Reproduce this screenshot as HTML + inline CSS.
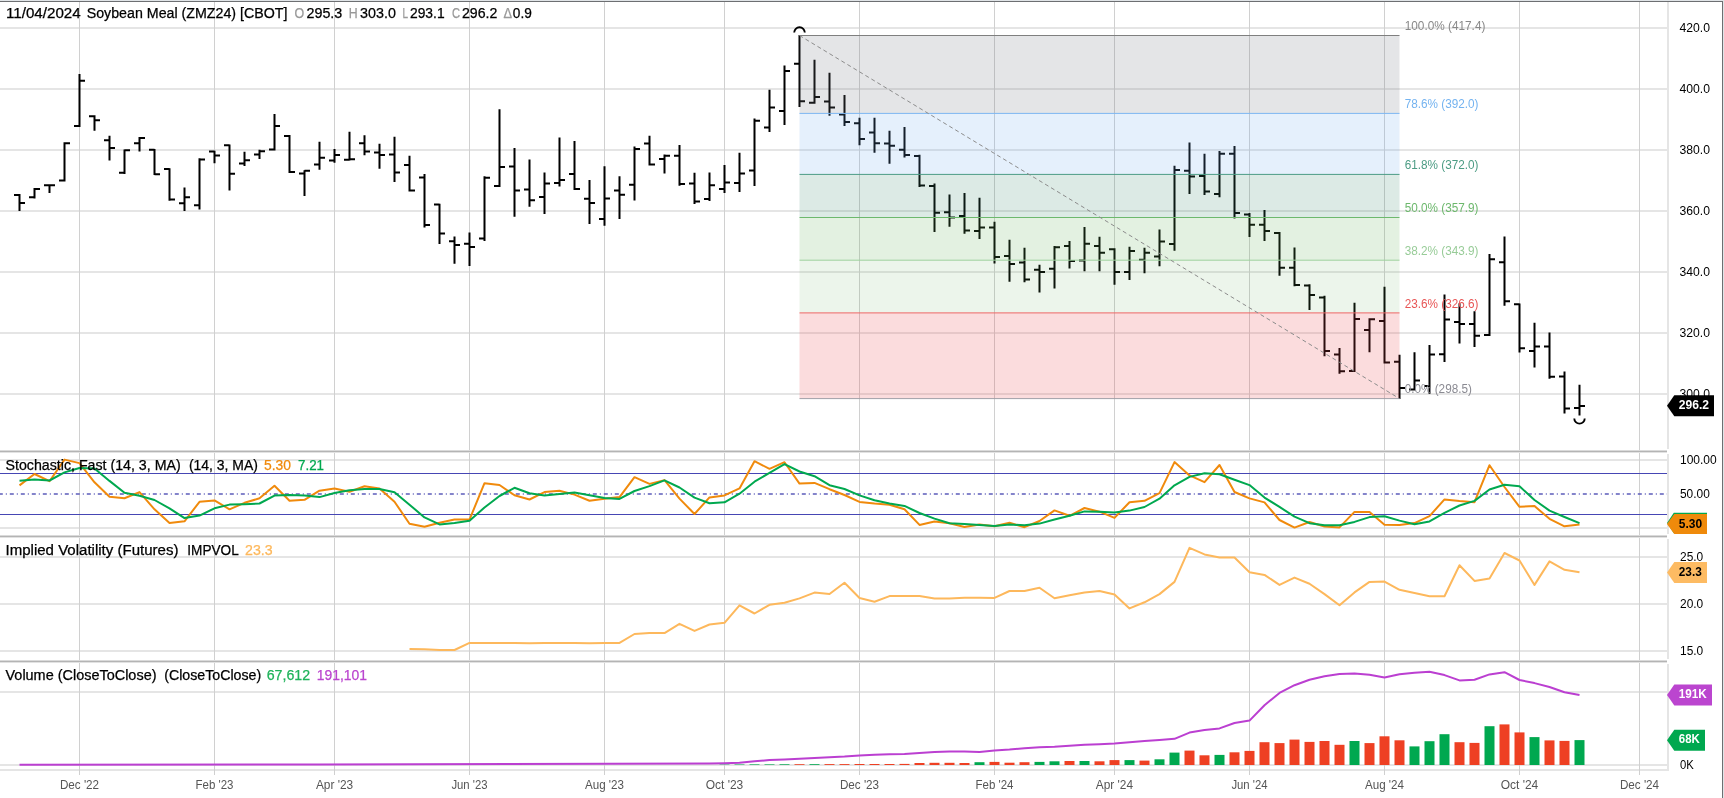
<!DOCTYPE html>
<html lang="en"><head><meta charset="utf-8"><title>Soybean Meal (ZMZ24) Weekly Chart</title>
<style>html,body{margin:0;padding:0;background:#fff;overflow:hidden}svg{display:block}#chart{will-change:transform;width:1724px;height:798px}</style></head>
<body>
<div id="chart">
<svg width="1724" height="798" viewBox="0 0 1724 798" font-family='"Liberation Sans", sans-serif'>
<rect x="0" y="0" width="1724" height="798" fill="#fff"/>
<g shape-rendering="crispEdges">
<rect x="0" y="27" width="1669" height="2" fill="#e5e5e5"/>
<rect x="0" y="88" width="1669" height="2" fill="#e5e5e5"/>
<rect x="0" y="149" width="1669" height="2" fill="#e5e5e5"/>
<rect x="0" y="210" width="1669" height="2" fill="#e5e5e5"/>
<rect x="0" y="271" width="1669" height="2" fill="#e5e5e5"/>
<rect x="0" y="332" width="1669" height="2" fill="#e5e5e5"/>
<rect x="0" y="393" width="1669" height="2" fill="#e5e5e5"/>
<rect x="0" y="459" width="1669" height="2" fill="#e5e5e5"/>
<rect x="0" y="527" width="1669" height="2" fill="#e5e5e5"/>
<rect x="0" y="556" width="1669" height="2" fill="#e5e5e5"/>
<rect x="0" y="603" width="1669" height="2" fill="#e5e5e5"/>
<rect x="0" y="650" width="1669" height="2" fill="#e5e5e5"/>
<rect x="0" y="691" width="1669" height="2" fill="#e5e5e5"/>
<rect x="0" y="764" width="1669" height="2" fill="#e5e5e5"/>
<rect x="0" y="769" width="1669" height="2" fill="#e5e5e5"/>
<rect x="1667" y="2" width="2" height="447" fill="#e5e5e5"/>
<rect x="1667" y="454" width="2" height="80" fill="#e5e5e5"/>
<rect x="1667" y="539" width="2" height="120" fill="#e5e5e5"/>
<rect x="1667" y="664" width="2" height="107" fill="#e5e5e5"/>
<rect x="79" y="2" width="1" height="773" fill="#d0d0d0"/>
<rect x="214" y="2" width="1" height="773" fill="#d0d0d0"/>
<rect x="334" y="2" width="1" height="773" fill="#d0d0d0"/>
<rect x="469" y="2" width="1" height="773" fill="#d0d0d0"/>
<rect x="604" y="2" width="1" height="773" fill="#d0d0d0"/>
<rect x="724" y="2" width="1" height="773" fill="#d0d0d0"/>
<rect x="859" y="2" width="1" height="773" fill="#d0d0d0"/>
<rect x="994" y="2" width="1" height="773" fill="#d0d0d0"/>
<rect x="1114" y="2" width="1" height="773" fill="#d0d0d0"/>
<rect x="1249" y="2" width="1" height="773" fill="#d0d0d0"/>
<rect x="1384" y="2" width="1" height="773" fill="#d0d0d0"/>
<rect x="1519" y="2" width="1" height="773" fill="#d0d0d0"/>
<rect x="1639" y="2" width="1" height="773" fill="#d0d0d0"/>
<rect x="0" y="450" width="1667" height="1" fill="#dadada"/>
<rect x="0" y="451" width="1667" height="1" fill="#b4b4b4"/>
<rect x="0" y="452" width="1667" height="1" fill="#e2e2e2"/>
<rect x="0" y="535" width="1667" height="1" fill="#dadada"/>
<rect x="0" y="536" width="1667" height="1" fill="#b4b4b4"/>
<rect x="0" y="537" width="1667" height="1" fill="#e2e2e2"/>
<rect x="0" y="660" width="1667" height="1" fill="#dadada"/>
<rect x="0" y="661" width="1667" height="1" fill="#b4b4b4"/>
<rect x="0" y="662" width="1667" height="1" fill="#e2e2e2"/>
</g>
<path d="M19.5 194.1V211.0M14.0 195.0H19.5M19.5 203.0H25.0M34.5 188.1V198.4M29.0 197.2H34.5M34.5 189.0H40.0M49.5 184.2V192.9M44.0 185.2H49.5M49.5 185.2H55.0M64.5 142.2V181.5M59.0 180.5H64.5M64.5 143.2H70.0M79.5 74.0V127.0M74.0 126.1H79.5M79.5 80.8H85.0M94.5 115.2V130.7M89.0 116.2H94.5M94.5 120.2H100.0M109.5 135.8V160.6M104.0 140.2H109.5M109.5 148.0H115.0M124.5 149.4V173.9M119.0 172.8H124.5M124.5 150.3H130.0M139.5 137.0V151.4M134.0 143.2H139.5M139.5 138.0H145.0M154.5 148.9V175.1M149.0 149.8H154.5M154.5 174.2H160.0M169.5 168.2V200.7M164.0 169.1H169.5M169.5 199.6H175.0M184.5 187.4V211.0M179.0 203.2H184.5M184.5 197.3H190.0M199.5 158.2V209.6M194.0 205.2H199.5M199.5 159.4H205.0M214.5 150.8V163.3M209.0 151.5H214.5M214.5 155.5H220.0M229.5 144.5V190.6M224.0 145.3H229.5M229.5 173.7H235.0M244.5 151.8V166.0M239.0 163.6H244.5M244.5 160.2H250.0M259.5 149.7V158.9M254.0 154.5H259.5M259.5 151.2H265.0M274.5 114.0V150.5M269.0 149.6H274.5M274.5 125.9H280.0M289.5 135.1V173.0M284.0 136.0H289.5M289.5 172.0H295.0M304.5 170.2V195.9M299.0 173.5H304.5M304.5 170.7H310.0M319.5 141.8V169.7M314.0 164.5H319.5M319.5 157.8H325.0M334.5 148.9V162.8M329.0 160.6H334.5M334.5 154.9H340.0M349.5 131.8V160.5M344.0 159.8H349.5M349.5 159.2H355.0M364.5 135.3V155.3M359.0 143.2H364.5M364.5 151.6H370.0M379.5 143.7V168.7M374.0 152.4H379.5M379.5 154.9H385.0M394.5 136.7V181.9M389.0 154.5H394.5M394.5 172.5H400.0M409.5 155.7V191.5M404.0 165.0H409.5M409.5 190.4H415.0M424.5 174.0V227.6M419.0 177.5H424.5M424.5 225.1H430.0M439.5 203.7V243.9M434.0 204.5H439.5M439.5 233.5H445.0M454.5 236.5V263.7M449.0 241.2H454.5M454.5 244.9H460.0M469.5 232.6V266.1M464.0 243.8H469.5M469.5 247.1H475.0M484.5 176.3V241.0M479.0 238.6H484.5M484.5 177.7H490.0M499.5 109.2V187.0M494.0 185.9H499.5M499.5 167.1H505.0M514.5 148.0V216.8M509.0 166.6H514.5M514.5 190.6H520.0M529.5 159.4V206.7M524.0 189.4H529.5M529.5 200.2H535.0M544.5 172.4V214.0M539.0 197.0H544.5M544.5 183.4H550.0M559.5 137.6V186.6M554.0 183.1H559.5M559.5 180.0H565.0M574.5 140.9V190.1M569.0 174.0H574.5M574.5 189.0H580.0M589.5 180.1V224.1M584.0 198.8H589.5M589.5 203.1H595.0M604.5 166.3V225.8M599.0 219.0H604.5M604.5 198.6H610.0M619.5 176.3V218.9M614.0 190.4H619.5M619.5 194.8H625.0M634.5 146.6V200.4M629.0 184.8H634.5M634.5 149.1H640.0M649.5 135.8V165.4M644.0 143.4H649.5M649.5 164.5H655.0M664.5 154.6V173.6M659.0 158.9H664.5M664.5 155.7H670.0M679.5 144.9V185.8M674.0 155.7H679.5M679.5 184.0H685.0M694.5 172.8V203.9M689.0 183.6H694.5M694.5 201.6H700.0M709.5 172.4V200.9M704.0 199.0H709.5M709.5 185.2H715.0M724.5 164.9V193.1M719.0 189.0H724.5M724.5 182.6H730.0M739.5 152.7V191.9M734.0 183.1H739.5M739.5 173.5H745.0M754.5 118.4V186.1M749.0 170.4H754.5M754.5 120.7H760.0M769.5 89.8V131.9M764.0 127.5H769.5M769.5 107.6H775.0M784.5 65.4V124.9M779.0 110.9H784.5M784.5 71.0H790.0M799.5 34.9V107.0M794.0 63.7H799.5M799.5 101.2H805.0M814.5 59.7V103.7M809.0 102.8H814.5M814.5 97.0H820.0M829.5 72.7V115.7M824.0 101.5H829.5M829.5 107.6H835.0M844.5 94.9V126.1M839.0 114.6H844.5M844.5 121.9H850.0M859.5 117.7V145.3M854.0 123.3H859.5M859.5 139.0H865.0M874.5 117.7V152.8M869.0 132.5H874.5M874.5 143.2H880.0M889.5 130.8V163.7M884.0 143.6H889.5M889.5 145.8H895.0M904.5 127.0V157.4M899.0 149.7H904.5M904.5 155.0H910.0M919.5 154.8V187.0M914.0 155.9H919.5M919.5 185.6H925.0M934.5 183.4V231.9M929.0 186.0H934.5M934.5 212.8H940.0M949.5 194.6V226.8M944.0 212.2H949.5M949.5 217.6H955.0M964.5 193.1V233.7M959.0 216.0H964.5M964.5 230.5H970.0M979.5 197.7V238.9M974.0 231.1H979.5M979.5 227.6H985.0M994.5 221.8V263.5M989.0 227.6H994.5M994.5 257.0H1000.0M1009.5 239.7V281.8M1004.0 255.9H1009.5M1009.5 264.0H1015.0M1024.5 247.8V282.3M1019.0 262.6H1024.5M1024.5 279.4H1030.0M1039.5 264.8V292.6M1034.0 269.7H1039.5M1039.5 271.9H1045.0M1054.5 246.1V288.5M1049.0 268.8H1054.5M1054.5 247.2H1060.0M1069.5 240.9V268.4M1064.0 245.9H1069.5M1069.5 260.9H1075.0M1084.5 226.9V271.2M1079.0 260.5H1084.5M1084.5 243.8H1090.0M1099.5 236.7V271.2M1094.0 246.0H1099.5M1099.5 252.7H1105.0M1114.5 248.2V284.8M1109.0 249.2H1114.5M1114.5 271.9H1120.0M1129.5 246.7V279.9M1124.0 271.9H1129.5M1129.5 251.0H1135.0M1144.5 247.8V273.3M1139.0 259.8H1144.5M1144.5 252.7H1150.0M1159.5 229.5V266.2M1154.0 256.4H1159.5M1159.5 241.5H1165.0M1174.5 165.8V250.8M1169.0 244.1H1174.5M1174.5 170.1H1180.0M1189.5 142.4V194.0M1184.0 170.8H1189.5M1189.5 176.6H1195.0M1204.5 153.7V194.9M1199.0 175.9H1204.5M1204.5 191.5H1210.0M1219.5 150.9V197.2M1214.0 194.0H1219.5M1219.5 153.7H1225.0M1234.5 145.9V218.5M1229.0 153.7H1234.5M1234.5 213.0H1240.0M1249.5 212.9V237.0M1244.0 214.6H1249.5M1249.5 224.8H1255.0M1264.5 209.9V240.9M1259.0 224.8H1264.5M1264.5 231.0H1270.0M1279.5 232.0V275.8M1274.0 233.1H1279.5M1279.5 267.8H1285.0M1294.5 247.4V286.3M1289.0 267.8H1294.5M1294.5 285.0H1300.0M1309.5 284.3V310.1M1304.0 285.4H1309.5M1309.5 294.9H1315.0M1324.5 295.8V356.2M1319.0 297.4H1324.5M1324.5 351.1H1330.0M1339.5 347.9V373.8M1334.0 354.6H1339.5M1339.5 371.3H1345.0M1354.5 302.8V372.0M1349.0 370.9H1354.5M1354.5 318.9H1360.0M1369.5 318.2V352.2M1364.0 330.1H1369.5M1369.5 319.3H1375.0M1384.5 286.8V363.6M1379.0 321.0H1384.5M1384.5 362.5H1390.0M1399.5 354.8V399.1M1394.0 361.8H1399.5M1399.5 387.9H1405.0M1414.5 352.3V390.5M1409.0 389.6H1414.5M1414.5 380.6H1420.0M1429.5 345.0V393.8M1424.0 386.0H1429.5M1429.5 354.5H1435.0M1444.5 294.4V361.9M1439.0 354.2H1444.5M1444.5 319.5H1450.0M1459.5 303.2V343.4M1454.0 321.9H1459.5M1459.5 324.1H1465.0M1474.5 311.2V346.9M1469.0 324.1H1474.5M1474.5 335.7H1480.0M1489.5 253.9V336.1M1484.0 335.0H1489.5M1489.5 259.3H1495.0M1504.5 236.4V305.7M1499.0 262.3H1504.5M1504.5 301.2H1510.0M1519.5 303.4V352.5M1514.0 304.2H1519.5M1519.5 348.2H1525.0M1534.5 322.8V367.5M1529.0 351.0H1534.5M1534.5 346.6H1540.0M1549.5 332.4V378.7M1544.0 346.6H1549.5M1549.5 376.7H1555.0M1564.5 371.5V413.5M1559.0 376.6H1564.5M1564.5 408.6H1570.0M1579.5 384.7V415.5M1574.0 408.1H1579.5M1579.5 406.1H1585.0" stroke="#000" stroke-width="2" fill="none"/>
<rect x="799.5" y="35.5" width="600.0" height="77.9" fill="rgba(120,124,134,0.2)"/>
<rect x="799.5" y="113.4" width="600.0" height="61.0" fill="rgba(110,170,240,0.18)"/>
<rect x="799.5" y="174.4" width="600.0" height="43.1" fill="rgba(60,140,110,0.18)"/>
<rect x="799.5" y="217.5" width="600.0" height="42.7" fill="rgba(100,175,90,0.18)"/>
<rect x="799.5" y="260.2" width="600.0" height="52.7" fill="rgba(100,175,90,0.12)"/>
<rect x="799.5" y="312.9" width="600.0" height="85.7" fill="rgba(235,70,75,0.19)"/>
<line x1="799.5" y1="35.5" x2="1399.5" y2="35.5" stroke="#7f7f7f" stroke-width="1"/>
<line x1="799.5" y1="113.4" x2="1399.5" y2="113.4" stroke="#7db7f2" stroke-width="1"/>
<line x1="799.5" y1="174.4" x2="1399.5" y2="174.4" stroke="#4c9c84" stroke-width="1"/>
<line x1="799.5" y1="217.5" x2="1399.5" y2="217.5" stroke="#6db86d" stroke-width="1"/>
<line x1="799.5" y1="260.2" x2="1399.5" y2="260.2" stroke="#9fd19f" stroke-width="1"/>
<line x1="799.5" y1="312.9" x2="1399.5" y2="312.9" stroke="#ee6666" stroke-width="1"/>
<line x1="799.5" y1="398.6" x2="1399.5" y2="398.6" stroke="#a0a0a8" stroke-width="1"/>
<line x1="799.5" y1="35.5" x2="1399.5" y2="398.6" stroke="#8c8c8c" stroke-width="1" stroke-dasharray="4 3"/>
<path d="M794.2 32.6A5.3 5.3 0 0 1 804.8 32.6" stroke="#000" stroke-width="1.9" fill="none"/>
<path d="M1574.3 418.4A5.2 5.2 0 0 0 1584.7 418.4" stroke="#000" stroke-width="1.9" fill="none"/>
<text x="1404.7" y="30.1" font-size="12" fill="#888888" textLength="80.7" lengthAdjust="spacingAndGlyphs">100.0% (417.4)</text>
<text x="1404.7" y="108.0" font-size="12" fill="#74b3f0" textLength="73.8" lengthAdjust="spacingAndGlyphs">78.6% (392.0)</text>
<text x="1404.7" y="169.0" font-size="12" fill="#4c9c84" textLength="73.8" lengthAdjust="spacingAndGlyphs">61.8% (372.0)</text>
<text x="1404.7" y="212.1" font-size="12" fill="#6db86d" textLength="73.8" lengthAdjust="spacingAndGlyphs">50.0% (357.9)</text>
<text x="1404.7" y="254.8" font-size="12" fill="#98cc98" textLength="73.8" lengthAdjust="spacingAndGlyphs">38.2% (343.9)</text>
<text x="1404.7" y="307.5" font-size="12" fill="#e85555" textLength="73.8" lengthAdjust="spacingAndGlyphs">23.6% (326.6)</text>
<text x="1404.7" y="393.2" font-size="12" fill="#8a8a92" textLength="67.2" lengthAdjust="spacingAndGlyphs">0.0% (298.5)</text>
<line x1="0" y1="473.5" x2="1667" y2="473.5" stroke="#4646b4" stroke-width="1"/>
<line x1="0" y1="514.5" x2="1667" y2="514.5" stroke="#4646b4" stroke-width="1"/>
<line x1="-1.2" y1="494.1" x2="1667" y2="494.1" stroke="#5c5cba" stroke-width="1.5" stroke-dasharray="4 3 1 3"/>
<path d="M19.5 485.4L34.5 474.0L49.5 481.2L64.5 459.6L79.5 463.1L94.5 482.3L109.5 496.8L124.5 498.2L139.5 492.1L154.5 509.3L169.5 523.0L184.5 521.3L199.5 501.8L214.5 500.4L229.5 509.3L244.5 502.8L259.5 498.3L274.5 485.7L289.5 500.7L304.5 499.8L319.5 490.7L334.5 488.6L349.5 491.7L364.5 486.3L379.5 488.6L394.5 501.7L409.5 523.7L424.5 526.7L439.5 522.7L454.5 519.6L469.5 519.6L484.5 483.2L499.5 485.0L514.5 495.3L529.5 499.5L544.5 492.1L559.5 490.7L574.5 494.6L589.5 500.7L604.5 498.8L619.5 497.1L634.5 477.2L649.5 483.9L664.5 480.1L679.5 498.6L694.5 514.0L709.5 497.4L724.5 495.4L739.5 488.4L754.5 461.2L769.5 468.8L784.5 462.2L799.5 483.6L814.5 482.9L829.5 489.2L844.5 495.0L859.5 501.9L874.5 503.6L889.5 504.7L904.5 509.3L919.5 524.9L934.5 521.5L949.5 523.2L964.5 527.0L979.5 524.4L994.5 526.2L1009.5 522.7L1024.5 527.2L1039.5 521.0L1054.5 510.4L1069.5 515.8L1084.5 508.0L1099.5 511.7L1114.5 517.9L1129.5 502.2L1144.5 500.8L1159.5 493.1L1174.5 462.1L1189.5 475.4L1204.5 482.2L1219.5 465.0L1234.5 492.0L1249.5 498.4L1264.5 502.4L1279.5 520.0L1294.5 527.6L1309.5 522.0L1324.5 526.5L1339.5 527.4L1354.5 511.9L1369.5 512.0L1384.5 524.8L1399.5 525.1L1414.5 523.1L1429.5 516.1L1444.5 499.4L1459.5 501.1L1474.5 502.2L1489.5 465.2L1504.5 487.0L1519.5 506.8L1534.5 506.1L1549.5 518.8L1564.5 526.3L1579.5 524.6" stroke="#f08a0c" stroke-width="2" fill="none" stroke-linejoin="round"/>
<path d="M19.5 480.8L34.5 479.5L49.5 480.5L64.5 472.4L79.5 468.0L94.5 468.4L109.5 480.9L124.5 492.8L139.5 495.8L154.5 500.0L169.5 508.3L184.5 518.1L199.5 515.6L214.5 508.3L229.5 504.6L244.5 504.2L259.5 503.5L274.5 495.6L289.5 494.9L304.5 495.4L319.5 497.1L334.5 493.0L349.5 490.3L364.5 488.9L379.5 488.9L394.5 492.2L409.5 504.7L424.5 517.4L439.5 524.4L454.5 523.0L469.5 520.7L484.5 507.5L499.5 496.0L514.5 487.8L529.5 493.3L544.5 495.6L559.5 494.1L574.5 492.5L589.5 495.3L604.5 498.0L619.5 498.9L634.5 491.0L649.5 486.1L664.5 480.4L679.5 487.5L694.5 497.6L709.5 503.3L724.5 502.3L739.5 493.7L754.5 481.7L769.5 472.8L784.5 464.1L799.5 471.5L814.5 476.2L829.5 485.2L844.5 489.0L859.5 495.4L874.5 500.2L889.5 503.4L904.5 505.9L919.5 513.0L934.5 518.6L949.5 523.2L964.5 523.9L979.5 524.9L994.5 525.9L1009.5 524.4L1024.5 525.3L1039.5 523.6L1054.5 519.5L1069.5 515.7L1084.5 511.4L1099.5 511.8L1114.5 512.6L1129.5 510.6L1144.5 507.0L1159.5 498.7L1174.5 485.3L1189.5 476.9L1204.5 473.2L1219.5 474.2L1234.5 479.7L1249.5 485.1L1264.5 497.6L1279.5 506.9L1294.5 516.7L1309.5 523.2L1324.5 525.3L1339.5 525.3L1354.5 521.9L1369.5 517.1L1384.5 516.3L1399.5 520.6L1414.5 524.3L1429.5 521.4L1444.5 512.9L1459.5 505.5L1474.5 500.9L1489.5 489.5L1504.5 484.8L1519.5 486.3L1534.5 500.0L1549.5 510.6L1564.5 517.0L1579.5 523.2" stroke="#00a84f" stroke-width="2" fill="none" stroke-linejoin="round"/>
<path d="M409.5 649.0L424.5 649.3L439.5 650.0L454.5 650.0L469.5 642.9L484.5 642.9L499.5 642.9L514.5 642.9L529.5 643.2L544.5 642.9L559.5 642.9L574.5 642.9L589.5 643.2L604.5 642.9L619.5 642.9L634.5 634.0L649.5 633.1L664.5 633.1L679.5 623.8L694.5 630.9L709.5 624.5L724.5 622.8L739.5 605.3L754.5 613.5L769.5 604.8L784.5 602.7L799.5 598.4L814.5 592.6L829.5 594.0L844.5 582.7L859.5 598.0L874.5 601.8L889.5 596.1L904.5 596.1L919.5 596.1L934.5 598.4L949.5 598.4L964.5 597.8L979.5 597.8L994.5 597.9L1009.5 591.0L1024.5 591.0L1039.5 587.8L1054.5 598.3L1069.5 595.3L1084.5 592.4L1099.5 591.0L1114.5 594.5L1129.5 608.4L1144.5 602.3L1159.5 594.1L1174.5 581.9L1189.5 547.9L1204.5 554.4L1219.5 557.5L1234.5 557.5L1249.5 572.2L1264.5 574.9L1279.5 584.9L1294.5 577.6L1309.5 583.7L1324.5 594.1L1339.5 605.3L1354.5 592.4L1369.5 581.9L1384.5 581.6L1399.5 589.8L1414.5 593.1L1429.5 596.2L1444.5 596.2L1459.5 565.2L1474.5 580.9L1489.5 578.4L1504.5 553.0L1519.5 560.5L1534.5 584.9L1549.5 561.4L1564.5 569.8L1579.5 572.2" stroke="#fdb85c" stroke-width="2" fill="none" stroke-linejoin="round"/>
<rect x="719.5" y="764.6" width="10" height="0.4" fill="#00a84f"/>
<rect x="734.5" y="764.5" width="10" height="0.5" fill="#00a84f"/>
<rect x="749.5" y="764.4" width="10" height="0.6" fill="#00a84f"/>
<rect x="764.5" y="764.4" width="10" height="0.6" fill="#00a84f"/>
<rect x="779.5" y="764.3" width="10" height="0.7" fill="#00a84f"/>
<rect x="794.5" y="764.2" width="10" height="0.8" fill="#ee4023"/>
<rect x="809.5" y="764.2" width="10" height="0.8" fill="#00a84f"/>
<rect x="824.5" y="764.1" width="10" height="0.9" fill="#ee4023"/>
<rect x="839.5" y="764.1" width="10" height="0.9" fill="#ee4023"/>
<rect x="854.5" y="764.0" width="10" height="1.0" fill="#ee4023"/>
<rect x="869.5" y="764.0" width="10" height="1.0" fill="#ee4023"/>
<rect x="884.5" y="764.0" width="10" height="1.0" fill="#ee4023"/>
<rect x="899.5" y="763.9" width="10" height="1.1" fill="#ee4023"/>
<rect x="914.5" y="763.0" width="10" height="2.0" fill="#ee4023"/>
<rect x="929.5" y="762.8" width="10" height="2.2" fill="#ee4023"/>
<rect x="944.5" y="762.8" width="10" height="2.2" fill="#ee4023"/>
<rect x="959.5" y="763.0" width="10" height="2.0" fill="#ee4023"/>
<rect x="974.5" y="762.2" width="10" height="2.8" fill="#00a84f"/>
<rect x="989.5" y="761.9" width="10" height="3.1" fill="#ee4023"/>
<rect x="1004.5" y="762.7" width="10" height="2.3" fill="#ee4023"/>
<rect x="1019.5" y="762.2" width="10" height="2.8" fill="#ee4023"/>
<rect x="1034.5" y="761.9" width="10" height="3.1" fill="#00a84f"/>
<rect x="1049.5" y="761.3" width="10" height="3.7" fill="#00a84f"/>
<rect x="1064.5" y="761.0" width="10" height="4.0" fill="#ee4023"/>
<rect x="1079.5" y="761.0" width="10" height="4.0" fill="#00a84f"/>
<rect x="1094.5" y="761.3" width="10" height="3.7" fill="#ee4023"/>
<rect x="1109.5" y="760.1" width="10" height="4.9" fill="#ee4023"/>
<rect x="1124.5" y="760.1" width="10" height="4.9" fill="#00a84f"/>
<rect x="1139.5" y="760.6" width="10" height="4.4" fill="#ee4023"/>
<rect x="1154.5" y="759.3" width="10" height="5.7" fill="#00a84f"/>
<rect x="1169.5" y="752.6" width="10" height="12.4" fill="#00a84f"/>
<rect x="1184.5" y="750.6" width="10" height="14.4" fill="#ee4023"/>
<rect x="1199.5" y="755.3" width="10" height="9.7" fill="#ee4023"/>
<rect x="1214.5" y="754.9" width="10" height="10.1" fill="#00a84f"/>
<rect x="1229.5" y="752.3" width="10" height="12.7" fill="#ee4023"/>
<rect x="1244.5" y="750.9" width="10" height="14.1" fill="#ee4023"/>
<rect x="1259.5" y="742.2" width="10" height="22.8" fill="#ee4023"/>
<rect x="1274.5" y="743.1" width="10" height="21.9" fill="#ee4023"/>
<rect x="1289.5" y="739.6" width="10" height="25.4" fill="#ee4023"/>
<rect x="1304.5" y="741.9" width="10" height="23.1" fill="#ee4023"/>
<rect x="1319.5" y="741.0" width="10" height="24.0" fill="#ee4023"/>
<rect x="1334.5" y="744.8" width="10" height="20.2" fill="#ee4023"/>
<rect x="1349.5" y="741.0" width="10" height="24.0" fill="#00a84f"/>
<rect x="1364.5" y="743.1" width="10" height="21.9" fill="#ee4023"/>
<rect x="1379.5" y="736.3" width="10" height="28.7" fill="#ee4023"/>
<rect x="1394.5" y="740.3" width="10" height="24.7" fill="#ee4023"/>
<rect x="1409.5" y="746.4" width="10" height="18.6" fill="#00a84f"/>
<rect x="1424.5" y="741.2" width="10" height="23.8" fill="#00a84f"/>
<rect x="1439.5" y="734.2" width="10" height="30.8" fill="#00a84f"/>
<rect x="1454.5" y="742.2" width="10" height="22.8" fill="#ee4023"/>
<rect x="1469.5" y="742.9" width="10" height="22.1" fill="#ee4023"/>
<rect x="1484.5" y="726.2" width="10" height="38.8" fill="#00a84f"/>
<rect x="1499.5" y="724.4" width="10" height="40.6" fill="#ee4023"/>
<rect x="1514.5" y="732.4" width="10" height="32.6" fill="#ee4023"/>
<rect x="1529.5" y="737.1" width="10" height="27.9" fill="#00a84f"/>
<rect x="1544.5" y="740.4" width="10" height="24.6" fill="#ee4023"/>
<rect x="1559.5" y="740.9" width="10" height="24.1" fill="#ee4023"/>
<rect x="1574.5" y="740.1" width="10" height="24.9" fill="#00a84f"/>
<path d="M19.5 764.7L319.5 764.6L709.5 763.5L724.5 763.2L739.5 762.7L754.5 761.3L769.5 760.0L784.5 759.4L799.5 758.7L814.5 758.0L829.5 757.3L844.5 756.6L859.5 755.5L874.5 754.8L889.5 754.3L904.5 754.0L919.5 753.1L934.5 752.0L949.5 751.4L964.5 751.4L979.5 751.9L994.5 750.5L1009.5 749.6L1024.5 748.2L1039.5 747.2L1054.5 746.7L1069.5 745.8L1084.5 744.7L1099.5 744.2L1114.5 743.5L1129.5 742.3L1144.5 740.9L1159.5 740.0L1174.5 738.8L1189.5 732.6L1204.5 730.0L1219.5 728.4L1234.5 723.0L1249.5 720.6L1264.5 705.2L1279.5 692.9L1294.5 685.2L1309.5 679.7L1324.5 676.2L1339.5 673.9L1354.5 673.6L1369.5 674.8L1384.5 677.4L1399.5 674.3L1414.5 672.7L1429.5 671.7L1444.5 675.1L1459.5 680.4L1474.5 679.7L1489.5 674.4L1504.5 672.2L1519.5 680.0L1534.5 683.1L1549.5 687.0L1564.5 692.2L1579.5 694.9" stroke="#bb3fd1" stroke-width="2" fill="none" stroke-linejoin="round"/>
<text x="1679.5" y="32.3" font-size="12" fill="#000" textLength="30.5" lengthAdjust="spacingAndGlyphs">420.0</text>
<text x="1679.5" y="93.3" font-size="12" fill="#000" textLength="30.5" lengthAdjust="spacingAndGlyphs">400.0</text>
<text x="1679.5" y="154.3" font-size="12" fill="#000" textLength="30.5" lengthAdjust="spacingAndGlyphs">380.0</text>
<text x="1679.5" y="215.3" font-size="12" fill="#000" textLength="30.5" lengthAdjust="spacingAndGlyphs">360.0</text>
<text x="1679.5" y="276.3" font-size="12" fill="#000" textLength="30.5" lengthAdjust="spacingAndGlyphs">340.0</text>
<text x="1679.5" y="337.3" font-size="12" fill="#000" textLength="30.5" lengthAdjust="spacingAndGlyphs">320.0</text>
<text x="1679.5" y="398.3" font-size="12" fill="#000" textLength="30.5" lengthAdjust="spacingAndGlyphs">300.0</text>
<text x="1680" y="464" font-size="12" fill="#000" textLength="36.7" lengthAdjust="spacingAndGlyphs">100.00</text>
<text x="1680" y="498" font-size="12" fill="#000" textLength="29.8" lengthAdjust="spacingAndGlyphs">50.00</text>
<text x="1680" y="561" font-size="12" fill="#000" textLength="23.2" lengthAdjust="spacingAndGlyphs">25.0</text>
<text x="1680" y="608" font-size="12" fill="#000" textLength="23.2" lengthAdjust="spacingAndGlyphs">20.0</text>
<text x="1680" y="655" font-size="12" fill="#000" textLength="23.2" lengthAdjust="spacingAndGlyphs">15.0</text>
<text x="1680" y="769" font-size="12" fill="#000" textLength="13.8" lengthAdjust="spacingAndGlyphs">0K</text>
<text x="59.9" y="789" font-size="12" fill="#555" textLength="39.2" lengthAdjust="spacingAndGlyphs">Dec '22</text>
<text x="195.5" y="789" font-size="12" fill="#555" textLength="38" lengthAdjust="spacingAndGlyphs">Feb '23</text>
<text x="315.9" y="789" font-size="12" fill="#555" textLength="37.3" lengthAdjust="spacingAndGlyphs">Apr '23</text>
<text x="451.4" y="789" font-size="12" fill="#555" textLength="36.2" lengthAdjust="spacingAndGlyphs">Jun '23</text>
<text x="585.0" y="789" font-size="12" fill="#555" textLength="39" lengthAdjust="spacingAndGlyphs">Aug '23</text>
<text x="705.7" y="789" font-size="12" fill="#555" textLength="37.6" lengthAdjust="spacingAndGlyphs">Oct '23</text>
<text x="839.9" y="789" font-size="12" fill="#555" textLength="39.2" lengthAdjust="spacingAndGlyphs">Dec '23</text>
<text x="975.5" y="789" font-size="12" fill="#555" textLength="38" lengthAdjust="spacingAndGlyphs">Feb '24</text>
<text x="1095.8" y="789" font-size="12" fill="#555" textLength="37.3" lengthAdjust="spacingAndGlyphs">Apr '24</text>
<text x="1231.4" y="789" font-size="12" fill="#555" textLength="36.2" lengthAdjust="spacingAndGlyphs">Jun '24</text>
<text x="1365.0" y="789" font-size="12" fill="#555" textLength="39" lengthAdjust="spacingAndGlyphs">Aug '24</text>
<text x="1500.7" y="789" font-size="12" fill="#555" textLength="37.6" lengthAdjust="spacingAndGlyphs">Oct '24</text>
<text x="1619.9" y="789" font-size="12" fill="#555" textLength="39.2" lengthAdjust="spacingAndGlyphs">Dec '24</text>
<path d="M1667 405.7L1674.3 395.2H1714V416.2H1674.3Z" fill="#000"/>
<text x="1678.8" y="409.1" font-size="12" font-weight="bold" fill="#fff" textLength="30.3" lengthAdjust="spacingAndGlyphs">296.2</text>
<path d="M1667 523L1673.8 512.7H1707V533.3H1673.8Z" fill="#00a84f"/>
<path d="M1667 524L1674.3 514.1H1707V533.9H1674.3Z" fill="#ef8a0b"/>
<text x="1678.8" y="527.7" font-size="12" font-weight="bold" fill="#000" textLength="23.3" lengthAdjust="spacingAndGlyphs">5.30</text>
<path d="M1667 572.4L1674.3 561.9H1707V582.9H1674.3Z" fill="#fdbb63"/>
<text x="1678.8" y="575.9" font-size="12" font-weight="bold" fill="#000" textLength="23" lengthAdjust="spacingAndGlyphs">23.3</text>
<path d="M1667 694.9L1674.3 684.4H1712V705.4H1674.3Z" fill="#bb45cf"/>
<text x="1678.8" y="697.9" font-size="12" font-weight="bold" fill="#fff" textLength="28" lengthAdjust="spacingAndGlyphs">191K</text>
<path d="M1667 740.2L1674.3 729.7H1705V750.7H1674.3Z" fill="#00a84f"/>
<text x="1678.8" y="743.2" font-size="12" font-weight="bold" fill="#fff" textLength="21" lengthAdjust="spacingAndGlyphs">68K</text>
<text x="6" y="17.6" font-size="14" fill="#000" textLength="74.7" lengthAdjust="spacingAndGlyphs" stroke="#000" stroke-width="0.25">11/04/2024</text>
<text x="86.7" y="17.6" font-size="14" fill="#000" textLength="200.8" lengthAdjust="spacingAndGlyphs" stroke="#000" stroke-width="0.25">Soybean Meal (ZMZ24) [CBOT]</text>
<text x="294.4" y="17.6" font-size="14" fill="#999999" textLength="9.7" lengthAdjust="spacingAndGlyphs" stroke="#999999" stroke-width="0.25">O</text>
<text x="306.5" y="17.6" font-size="14" fill="#000" textLength="35.8" lengthAdjust="spacingAndGlyphs" stroke="#000" stroke-width="0.25">295.3</text>
<text x="348.8" y="17.6" font-size="14" fill="#999999" textLength="8.9" lengthAdjust="spacingAndGlyphs" stroke="#999999" stroke-width="0.25">H</text>
<text x="360.1" y="17.6" font-size="14" fill="#000" textLength="35.8" lengthAdjust="spacingAndGlyphs" stroke="#000" stroke-width="0.25">303.0</text>
<text x="402.4" y="17.6" font-size="14" fill="#999999" textLength="5.6" lengthAdjust="spacingAndGlyphs" stroke="#999999" stroke-width="0.25">L</text>
<text x="410" y="17.6" font-size="14" fill="#000" textLength="34.6" lengthAdjust="spacingAndGlyphs" stroke="#000" stroke-width="0.25">293.1</text>
<text x="451.9" y="17.6" font-size="14" fill="#999999" textLength="8.1" lengthAdjust="spacingAndGlyphs" stroke="#999999" stroke-width="0.25">C</text>
<text x="462" y="17.6" font-size="14" fill="#000" textLength="35.4" lengthAdjust="spacingAndGlyphs" stroke="#000" stroke-width="0.25">296.2</text>
<text x="503.4" y="17.6" font-size="14" fill="#999999" textLength="8.6" lengthAdjust="spacingAndGlyphs" stroke="#999999" stroke-width="0.25">Δ</text>
<text x="512.8" y="17.6" font-size="14" fill="#000" textLength="19" lengthAdjust="spacingAndGlyphs" stroke="#000" stroke-width="0.25">0.9</text>
<text x="5.5" y="469.7" font-size="14" fill="#000" textLength="175.2" lengthAdjust="spacingAndGlyphs" stroke="#000" stroke-width="0.25">Stochastic, Fast (14, 3, MA)</text>
<text x="188.9" y="469.7" font-size="14" fill="#000" textLength="69" lengthAdjust="spacingAndGlyphs" stroke="#000" stroke-width="0.25">(14, 3, MA)</text>
<text x="264" y="469.7" font-size="14" fill="#f08a0c" textLength="27" lengthAdjust="spacingAndGlyphs" stroke="#f08a0c" stroke-width="0.25">5.30</text>
<text x="298" y="469.7" font-size="14" fill="#00a84f" textLength="26" lengthAdjust="spacingAndGlyphs" stroke="#00a84f" stroke-width="0.25">7.21</text>
<text x="5.5" y="555.0" font-size="14" fill="#000" textLength="173" lengthAdjust="spacingAndGlyphs" stroke="#000" stroke-width="0.25">Implied Volatility (Futures)</text>
<text x="187.3" y="555.0" font-size="14" fill="#000" textLength="51.4" lengthAdjust="spacingAndGlyphs" stroke="#000" stroke-width="0.25">IMPVOL</text>
<text x="245" y="555.0" font-size="14" fill="#fdb85c" textLength="27.6" lengthAdjust="spacingAndGlyphs" stroke="#fdb85c" stroke-width="0.25">23.3</text>
<text x="5.5" y="679.6" font-size="14" fill="#000" textLength="151" lengthAdjust="spacingAndGlyphs" stroke="#000" stroke-width="0.25">Volume (CloseToClose)</text>
<text x="164.2" y="679.6" font-size="14" fill="#000" textLength="97" lengthAdjust="spacingAndGlyphs" stroke="#000" stroke-width="0.25">(CloseToClose)</text>
<text x="266.7" y="679.6" font-size="14" fill="#1fb35a" textLength="43.4" lengthAdjust="spacingAndGlyphs" stroke="#1fb35a" stroke-width="0.25">67,612</text>
<text x="316.7" y="679.6" font-size="14" fill="#bb45cf" textLength="50.3" lengthAdjust="spacingAndGlyphs" stroke="#bb45cf" stroke-width="0.25">191,101</text>
<g shape-rendering="crispEdges">
<rect x="0" y="0" width="1724" height="1" fill="#e0e4e7"/>
<rect x="1723" y="0" width="1" height="798" fill="#e0e4e7"/>
<rect x="0" y="1" width="1723" height="1" fill="#6d6f72"/>
<rect x="1722" y="1" width="1" height="797" fill="#6d6f72"/>
</g>
</svg>
</div>
</body></html>
